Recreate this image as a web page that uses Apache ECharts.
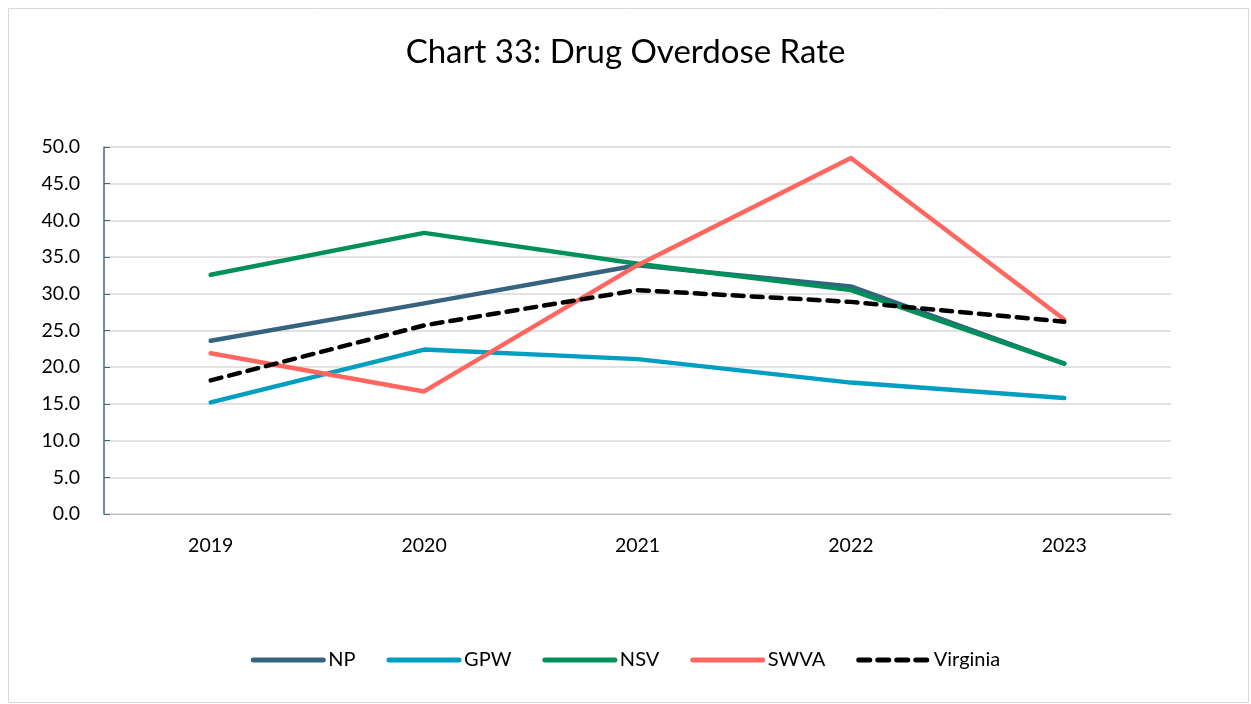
<!DOCTYPE html>
<html><head><meta charset="utf-8">
<script src="https://cdn.jsdelivr.net/npm/echarts@6/dist/echarts.min.js"></script>
<style>html,body{margin:0;padding:0;background:#fff;}#c{width:1251px;height:704px;}</style>
</head><body><div id="c"></div>
<script>
const years = ['2019','2020','2021','2022','2023'];
const np = [23.6, 28.7, 33.9, 31.0, 20.5];
const gpw = [15.2, 22.4, 21.1, 17.9, 15.8];
const nsv = [32.6, 38.3, 34.1, 30.5, 20.5];
const swva = [21.9, 16.7, 33.9, 48.5, 26.5];
const virginia = [18.2, 25.7, 30.5, 28.9, 26.2];

const font = 'Lato, "Open Sans", sans-serif';
const chart = echarts.init(document.getElementById('c'));
function ser(name, data, color, dashed) {
  return {
    name, type: 'line', data, symbol: 'none', smooth: false,
    lineStyle: { color, width: 4.5, type: dashed ? [11, 8] : 'solid', cap: 'round', join: 'round' },
    itemStyle: { color }
  };
}
chart.setOption({
  animation: false,
  backgroundColor: '#fff',
  graphic: [{ type: 'rect', shape: { x: 8.5, y: 8.5, width: 1240, height: 694 }, style: { fill: 'none', stroke: '#d9d9d9', lineWidth: 1 }, silent: true }],
  title: { text: 'Chart 33: Drug Overdose Rate', left: 'center', top: 31,
    textStyle: { fontFamily: font, fontSize: 33, fontWeight: 'normal', color: '#000' } },
  grid: { left: 104, right: 80, top: 147, bottom: 190 },
  legend: {
    bottom: 29, left: 'center', itemWidth: 70, itemHeight: 10, itemGap: 31,
    itemStyle: { color: 'rgba(0,0,0,0)', borderColor: 'rgba(0,0,0,0)', borderWidth: 0 },
    lineStyle: { width: 5 },
    textStyle: { fontFamily: font, fontSize: 20, color: '#000' },
    data: ['NP', 'GPW', 'NSV', 'SWVA', 'Virginia']
  },
  xAxis: {
    type: 'category', data: years, boundaryGap: true,
    axisLine: { lineStyle: { color: '#bfbfbf', width: 1 } },
    axisTick: { show: false },
    axisLabel: { fontFamily: font, fontSize: 19.5, color: '#000', margin: 22 }
  },
  yAxis: {
    type: 'value', min: 0, max: 50, interval: 5,
    axisLine: { show: true, lineStyle: { color: '#3f6a85', width: 1.5 } },
    axisTick: { show: true, inside: true, length: 6, lineStyle: { color: '#3f6a85' } },
    splitLine: { lineStyle: { color: '#d9d9d9', width: 1.5 } },
    axisLabel: { fontFamily: font, fontSize: 19.5, color: '#000', margin: 24, formatter: v => v.toFixed(1) }
  },
  series: [
    ser('NP', np, '#36647f'),
    ser('GPW', gpw, '#009ec1'),
    ser('NSV', nsv, '#00915a'),
    ser('SWVA', swva, '#ff6660'),
    ser('Virginia', virginia, '#000000', true)
  ]
});
</script></body></html>
